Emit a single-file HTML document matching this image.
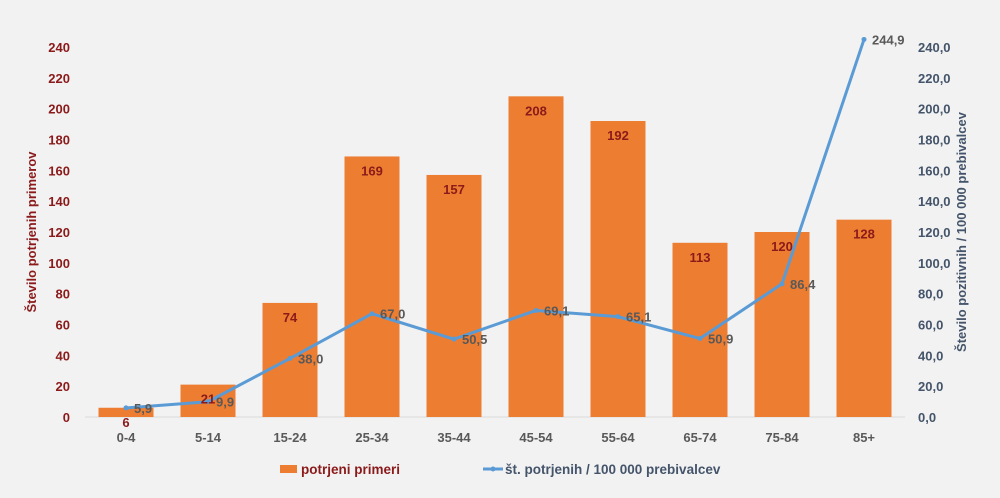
<!DOCTYPE html>
<html><head><meta charset="utf-8"><style>
html,body{margin:0;padding:0;background:#f2f2f2;}
svg{display:block;font-family:"Liberation Sans",sans-serif;font-weight:bold;}
</style></head><body>
<svg id="chart" width="1000" height="498" xmlns="http://www.w3.org/2000/svg">
<rect width="1000" height="498" fill="#f2f2f2"/>
<g id="grid"></g><g id="bars"></g><g id="line"></g><g id="labels"></g>
<text transform="translate(36,232) rotate(-90)" text-anchor="middle" font-size="13" fill="#8b1a1a">Število potrjenih  primerov</text>
<text transform="translate(966,232) rotate(-90)" text-anchor="middle" font-size="13" fill="#44546a">Število pozitivnih  / 100 000 prebivalcev</text>
<g>
<rect x="280" y="465" width="17" height="8" fill="#ed7d31"/>
<text x="301" y="474" font-size="13.5" fill="#8b1a1a">potrjeni primeri</text>
<line x1="483" y1="469" x2="503" y2="469" stroke="#5b9bd5" stroke-width="3"/>
<circle cx="493" cy="469" r="2.5" fill="#5b9bd5"/>
<text x="505" y="474" font-size="13.5" fill="#44546a">št. potrjenih / 100 000 prebivalcev</text>
</g>
</svg>
<script>
const categories=["0-4","5-14","15-24","25-34","35-44","45-54","55-64","65-74","75-84","85+"];
const cases=[6,21,74,169,157,208,192,113,120,128];
const rate=[5.9,9.9,38.0,67.0,50.5,69.1,65.1,50.9,86.4,244.9];
const leftTicks=[0,20,40,60,80,100,120,140,160,180,200,220,240];
const rightTicks=[0,20,40,60,80,100,120,140,160,180,200,220,240];
const NS="http://www.w3.org/2000/svg";
const y0=417,y1=47,vmax=240,x0=85,x1=905;
const yL=v=>y0-(v/vmax)*(y0-y1);
const yR=v=>y0-(v/vmax)*(y0-y1);
const step=(x1-x0)/categories.length;
const xC=i=>x0+step*(i+0.5);
const bw=55;
function mk(tag,attrs,parent,txt){const e=document.createElementNS(NS,tag);for(const k in attrs)e.setAttribute(k,attrs[k]);if(txt!==undefined)e.textContent=txt;document.getElementById(parent).appendChild(e);return e;}
const g=document.getElementById('grid');
let ax=mk('line',{x1:x0,y1:y0,x2:x1,y2:y0,stroke:'#d9d9d9','stroke-width':1},'grid');


leftTicks.forEach(v=>{const t=mk('text',{x:70,y:yL(v)+5,'text-anchor':'end','font-size':13,fill:'#8b1a1a'},'grid',String(v));

});
rightTicks.forEach(v=>{const t=mk('text',{x:918,y:yR(v)+5,'text-anchor':'start','font-size':13,fill:'#44546a'},'grid',v.toFixed(1).replace('.',','));

});
categories.forEach((c,i)=>{const t=mk('text',{x:xC(i),y:442,'text-anchor':'middle','font-size':13,fill:'#595959'},'grid',c);

});
cases.forEach((v,i)=>{const r=mk('rect',{x:xC(i)-bw/2,y:yL(v),width:bw,height:y0-yL(v),fill:'#ed7d31'},'bars');


const t=mk('text',{x:xC(i),y:yL(v)+19,'text-anchor':'middle','font-size':13,fill:'#8b1a1a'},'labels',String(v));

});
const pts=rate.map((v,i)=>xC(i)+','+yR(v)).join(' ');
const pl=mk('polyline',{points:pts,fill:'none',stroke:'#5b9bd5','stroke-width':3,'stroke-linejoin':'round'},'line');


rate.forEach((v,i)=>{const c=mk('circle',{cx:xC(i),cy:yR(v),r:2.5,fill:'#5b9bd5'},'line');


const t=mk('text',{x:xC(i)+8,y:yR(v)+5,'text-anchor':'start','font-size':13,fill:'#595959'},'labels',v.toFixed(1).replace('.',','));

});
</script>
</body></html>
